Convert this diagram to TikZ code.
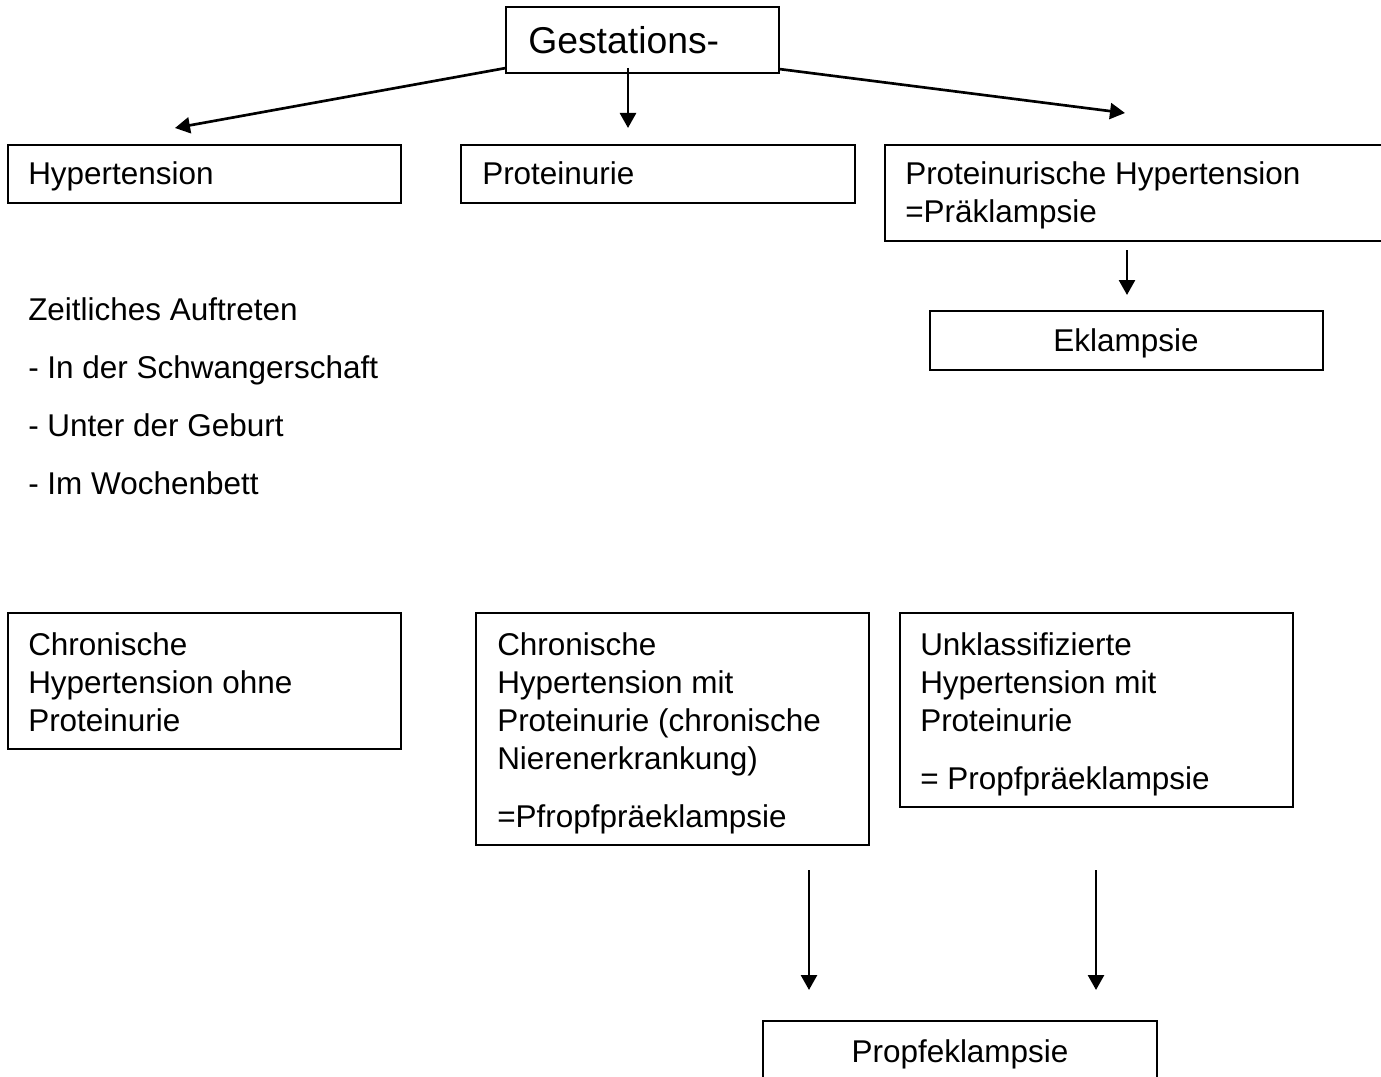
\documentclass[tikz,border=0pt]{standalone}
\usepackage{fontspec}
\setmainfont{Liberation Sans}
\usetikzlibrary{arrows.meta,fit}
\begin{document}
\begin{tikzpicture}[x=0.75pt,y=-0.75pt,
  box/.style={draw, line width=1pt, inner sep=0pt},
  txt/.style={inner sep=0pt, anchor=base west, font=\fontsize{23.6}{28.5}\selectfont},
  ctxt/.style={txt, anchor=base},
  arr/.style={line width=2pt, -{Triangle[length=11.25pt,width=12pt]}}]
\useasboundingbox[fill=white] (0,0) rectangle (1381,1077);

% top box
\node[box, fit={(506,7)(779,73)}] (gest) {};
\node[txt, font=\fontsize{28}{33}\selectfont] (gestT) at (528,54) {Gestations-};

% row 1
\node[box, fit={(8,145)(401,203)}] (hyp) {};
\node[txt] (hypT) at (28,185) {Hypertension};
\node[box, fit={(461,145)(855,203)}] (prot) {};
\node[txt] (protT) at (482,185) {Proteinurie};
\node[box, fit={(885,145)(1400,241)}] (prhyp) {};
\node[txt] (prhypT1) at (905,185) {Proteinurische Hypertension};
\node[txt] (prhypT2) at (905,223) {=Präklampsie};

\node[box, fit={(930,311)(1323,370)}] (ekl) {};
\node[ctxt] (eklT) at (1126,351) {Eklampsie};

% free text
\node[txt] (z1) at (28,320) {Zeitliches Auftreten};
\node[txt] (z2) at (28,378) {- In der Schwangerschaft};
\node[txt] (z3) at (28,436) {- Unter der Geburt};
\node[txt] (z4) at (28,494) {- Im Wochenbett};

% row 2
\node[box, fit={(8,613)(401,749)}] (chr) {};
\node[txt] (chrT1) at (28,655) {Chronische};
\node[txt] (chrT2) at (28,693) {Hypertension ohne};
\node[txt] (chrT3) at (28,731) {Proteinurie};

\node[box, fit={(476,613)(869,845)}] (chrm) {};
\node[txt] (chrmT1) at (497,655) {Chronische};
\node[txt] (chrmT2) at (497,693) {Hypertension mit};
\node[txt] (chrmT3) at (497,731) {Proteinurie (chronische};
\node[txt] (chrmT4) at (497,769) {Nierenerkrankung)};
\node[txt] (chrmT5) at (497,827) {=Pfropfpräeklampsie};

\node[box, fit={(900,613)(1293,807)}] (unk) {};
\node[txt] (unkT1) at (920,655) {Unklassifizierte};
\node[txt] (unkT2) at (920,693) {Hypertension mit};
\node[txt] (unkT3) at (920,731) {Proteinurie};
\node[txt] (unkT4) at (920,789) {= Propfpräeklampsie};

% bottom box
\node[box, fit={(763,1021)(1157,1110)}] (pek) {};
\node[ctxt] (pekT) at (960,1062) {Propfeklampsie};

% connector end points
\coordinate (gL) at (506,68);
\coordinate (gM) at (628,68);
\coordinate (gR) at (779,69);
\coordinate (tL) at (175,128);
\coordinate (tM) at (628,128);
\coordinate (tR) at (1125,113);
\coordinate (eS) at (1127,250);
\coordinate (eT) at (1127,295);
\coordinate (b1S) at (809,870);
\coordinate (b1T) at (809,990);
\coordinate (b2S) at (1096,870);
\coordinate (b2T) at (1096,990);

\draw[arr] (gL) -- (tL);
\draw[arr] (gM) -- (tM);
\draw[arr] (gR) -- (tR);
\draw[arr] (eS) -- (eT);
\draw[arr] (b1S) -- (b1T);
\draw[arr] (b2S) -- (b2T);
\end{tikzpicture}
\end{document}
